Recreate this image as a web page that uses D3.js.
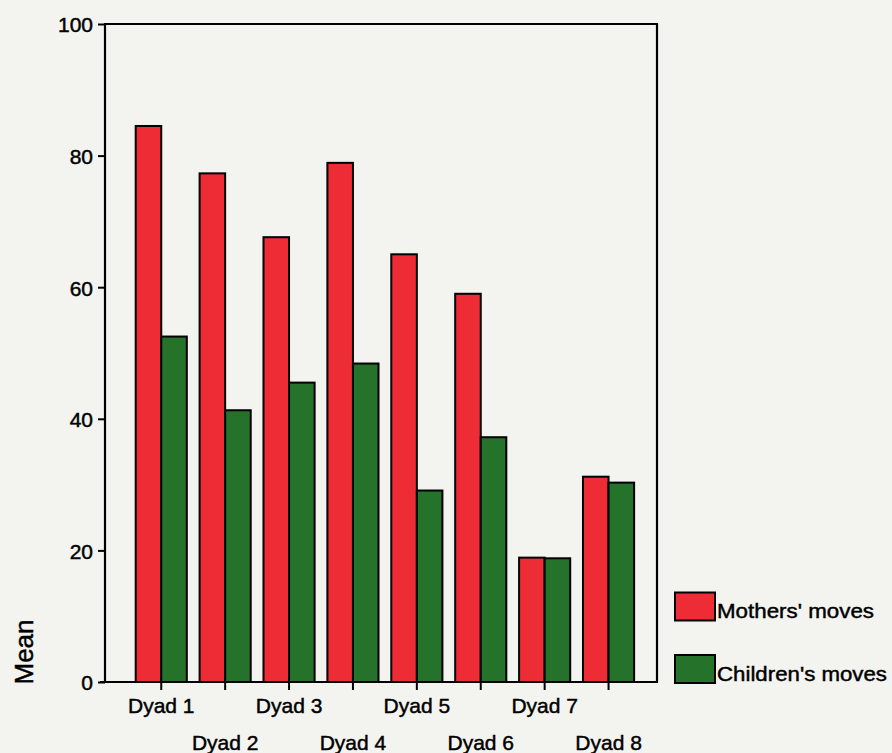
<!DOCTYPE html>
<html>
<head>
<meta charset="utf-8">
<script src="https://cdn.jsdelivr.net/npm/d3@7"></script>
<style>
  html, body { margin: 0; padding: 0; background: #f3f4f0; }
  svg { display: block; }
  .lbl { font-family: "Liberation Sans", Arial, sans-serif; fill: #000; stroke: #000; stroke-width: 0.45px; }
</style>
</head>
<body>
<svg id="chart" width="892" height="753"></svg>
<script>
// ---- data ----
const categories = ["Dyad 1", "Dyad 2", "Dyad 3", "Dyad 4", "Dyad 5", "Dyad 6", "Dyad 7", "Dyad 8"];
const seriesNames = ["Mothers' moves", "Children's moves"];
const mothersMoves = [84.5, 77.3, 67.6, 78.9, 65.0, 59.0, 18.9, 31.2];
const childrensMoves = [52.5, 41.3, 45.5, 48.4, 29.1, 37.2, 18.8, 30.3];
const yTicks = [0, 20, 40, 60, 80, 100];
const yLabel = "Mean";

const colors = { red: "#ed2c35", green: "#25722b" };

const svg = d3.select("#chart");

// scales
const frame = { left: 105, right: 657, top: 24, bottom: 682 };
const y = d3.scaleLinear().domain([0, 100]).range([frame.bottom, frame.top]);
const x = d3.scaleBand().domain(categories).range([129.3, 640.5]).paddingInner(0.2).paddingOuter(0.1);
const x1 = d3.scaleBand().domain(seriesNames).range([0, x.bandwidth()]).padding(0);
const color = d3.scaleOrdinal().domain(seriesNames).range([colors.red, colors.green]);

const rows = categories.map((c, i) => ({
  cat: c,
  vals: [
    { key: seriesNames[0], v: mothersMoves[i] },
    { key: seriesNames[1], v: childrensMoves[i] }
  ]
}));

// bars
const groups = svg.append("g").selectAll("g").data(rows).join("g")
  .attr("transform", d => `translate(${x(d.cat)},0)`);
groups.selectAll("rect").data(d => d.vals).join("rect")
  .attr("x", d => x1(d.key))
  .attr("y", d => y(d.v))
  .attr("width", x1.bandwidth())
  .attr("height", d => y(0) - y(d.v))
  .attr("fill", d => color(d.key))
  .attr("stroke", "#000")
  .attr("stroke-width", 2);

// frame
const fr = svg.append("g").attr("stroke", "#000").attr("stroke-width", 2.2).attr("fill", "none");
fr.append("line").attr("x1", frame.left).attr("x2", frame.left).attr("y1", frame.top).attr("y2", frame.bottom);
fr.append("line").attr("x1", frame.left - 1).attr("x2", frame.right + 1).attr("y1", frame.top).attr("y2", frame.top);
fr.append("line").attr("x1", frame.right).attr("x2", frame.right).attr("y1", frame.top).attr("y2", frame.bottom);
fr.append("line").attr("x1", 100).attr("x2", frame.right + 1).attr("y1", frame.bottom).attr("y2", frame.bottom);

// y axis
const yAxis = svg.append("g").attr("transform", `translate(${frame.left},0)`)
  .call(d3.axisLeft(y).tickValues(yTicks).tickSize(7).tickPadding(5).tickSizeOuter(0));
yAxis.select(".domain").remove();
yAxis.selectAll(".tick line").attr("stroke", "#000").attr("stroke-width", 2);
yAxis.selectAll(".tick text").attr("class", "lbl").style("font-size", "21px").attr("dy", "0.38em");

// x axis
const xAxis = svg.append("g").attr("transform", `translate(0,${frame.bottom})`)
  .call(d3.axisBottom(x).tickSize(8).tickSizeOuter(0));
xAxis.select(".domain").remove();
xAxis.selectAll(".tick line").attr("stroke", "#000").attr("stroke-width", 2);
xAxis.selectAll(".tick text").attr("class", "lbl").style("font-size", "21px")
  .attr("dy", 0)
  .attr("y", (d, i) => i % 2 === 0 ? 31 : 68);

// y label
svg.append("text").attr("class", "lbl")
  .attr("transform", "translate(33,652) rotate(-90)")
  .attr("text-anchor", "middle")
  .style("font-size", "26px")
  .text(yLabel);

// legend
const legW = [157, 170];
const leg = svg.append("g").selectAll("g").data(seriesNames).join("g")
  .attr("transform", (d, i) => `translate(675,${592.5 + i * 62.5})`);
leg.append("rect").attr("width", 40).attr("height", 28)
  .attr("fill", d => color(d)).attr("stroke", "#000").attr("stroke-width", 2);
leg.append("text").attr("class", "lbl")
  .attr("x", 42).attr("y", 25.5)
  .style("font-size", "21px")
  .attr("textLength", (d, i) => legW[i]).attr("lengthAdjust", "spacingAndGlyphs")
  .text(d => d);
</script>
</body>
</html>
